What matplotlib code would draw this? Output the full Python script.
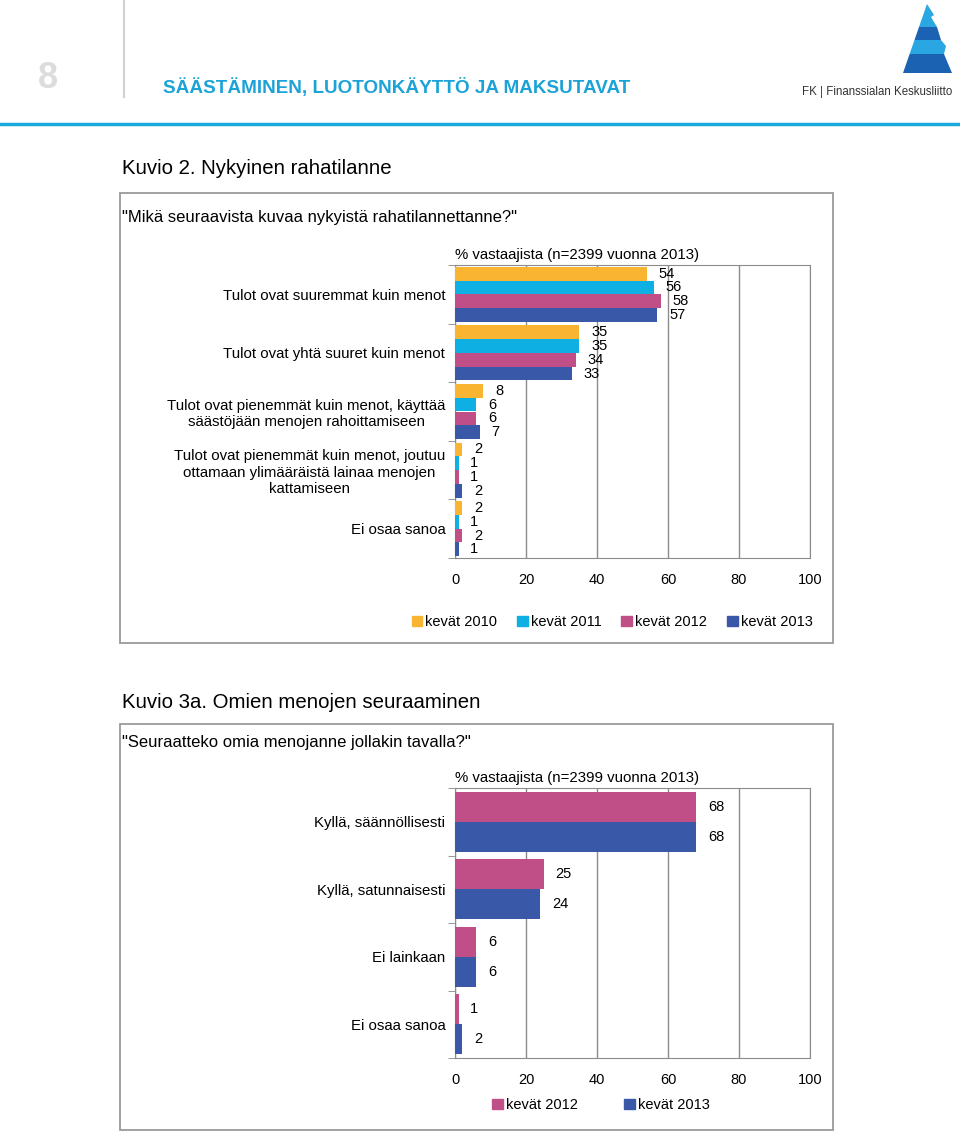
import matplotlib as mpl
mpl.use('Agg')
import matplotlib.pyplot as plt  # NOQA
from matplotlib.patches import Rectangle, Polygon, Patch

W, H = 960, 1134

# data: Kuvio 2
cats1 = ['Tulot ovat suuremmat kuin menot',
         'Tulot ovat yhtä suuret kuin menot',
         'Tulot ovat pienemmät kuin menot, käyttää\nsäästöjään menojen rahoittamiseen',
         'Tulot ovat pienemmät kuin menot, joutuu\nottamaan ylimääräistä lainaa menojen\nkattamiseen',
         'Ei osaa sanoa']
v2010 = [54, 35, 8, 2, 2]
v2011 = [56, 35, 6, 1, 1]
v2012 = [58, 34, 6, 1, 2]
v2013 = [57, 33, 7, 2, 1]
series1 = ['kevät 2010', 'kevät 2011', 'kevät 2012', 'kevät 2013']

# data: Kuvio 3a
cats2 = ['Kyllä, säännöllisesti', 'Kyllä, satunnaisesti', 'Ei lainkaan', 'Ei osaa sanoa']
w2012 = [68, 25, 6, 1]
w2013 = [68, 24, 6, 2]
series2 = ['kevät 2012', 'kevät 2013']

xticks = [0, 20, 40, 60, 80, 100]

col = {'kevät 2010': '#f9b531', 'kevät 2011': '#0eb0e3',
       'kevät 2012': '#c14f87', 'kevät 2013': '#3a58a8'}

plt.rcParams['font.family'] = ['Liberation Sans', 'DejaVu Sans']


def fx(x):
    return x / W


def fy(y):
    return 1 - y / H


def box(l, t, r, b):
    return [fx(l), fy(b), fx(r) - fx(l), fy(t) - fy(b)]


fig = plt.figure(figsize=(9.6, 11.34), dpi=100)

# header
fig.text(fx(48), fy(78), '8', fontsize=26, fontweight='bold', color='#dcdcdc',
         ha='center', va='center')
fig.add_artist(plt.Line2D([fx(124), fx(124)], [fy(0), fy(97)], color='#d0d0d0', lw=1.5))
fig.text(fx(163), fy(87), 'SÄÄSTÄMINEN, LUOTONKÄYTTÖ JA MAKSUTAVAT', fontsize=13.6,
         fontweight='bold', color='#1ba3d8', va='center')
fig.add_artist(plt.Line2D([0, 1], [fy(123.5), fy(123.5)], color='#1aa9dc', lw=2.5))


# logo: stripes between a straight left edge and a stepped right edge
def xl(y):
    return 927 + (903 - 927) * (y - 4) / 69


light, dark = '#2aa6e3', '#1c62b3'
bands = [
    (4, 27, [(927, 4), (934, 15), (931, 17), (937, 27)], light),
    (27, 40, [(937, 27), (941, 40)], dark),
    (40, 54, [(941, 40), (946, 46), (944, 54)], light),
    (54, 73, [(944, 54), (952, 73)], dark),
]
for y0, y1, right, c in bands:
    pts = [(xl(y0), y0)] + right + [(xl(y1), y1)]
    fig.add_artist(Polygon([(fx(a), fy(b)) for a, b in pts], closed=True,
                           transform=fig.transFigure, facecolor=c, edgecolor='none'))
fig.text(fx(952), fy(92), 'FK | Finanssialan Keskusliitto', fontsize=8.3,
         ha='right', va='center', color='#333333')

# titles and frames
fig.text(fx(122), fy(168), 'Kuvio 2. Nykyinen rahatilanne', fontsize=14.7, va='center')
fig.text(fx(122), fy(218), '"Mikä seuraavista kuvaa nykyistä rahatilannettanne?"',
         fontsize=12, va='center')
fig.text(fx(122), fy(702), 'Kuvio 3a. Omien menojen seuraaminen', fontsize=14.7, va='center')
fig.text(fx(122), fy(742), '"Seuraatteko omia menojanne jollakin tavalla?"',
         fontsize=12, va='center')
for t, b in [(193, 643), (724, 1130)]:
    fig.add_artist(Rectangle((fx(120), fy(b)), fx(833) - fx(120), fy(t) - fy(b),
                             transform=fig.transFigure, fill=False,
                             edgecolor='#9a9a9a', lw=1.3))


def bar_chart(ax, cats, vals, labels, h):
    n = len(vals)
    for i, (v, lab) in enumerate(zip(vals, labels)):
        pos = [k + (i - (n - 1) / 2) * h for k in range(len(cats))]
        ax.barh(pos, v, height=h, color=col[lab], zorder=3)
        for p, val in zip(pos, v):
            ax.annotate(str(val), (val, p), xytext=(8.5, 0), textcoords='offset points',
                        va='center', ha='left', fontsize=10.5)
    ax.set_xlim(0, 100)
    ax.set_ylim(len(cats) - 0.5, -0.5)
    ax.set_xticks(xticks)
    ax.set_yticks(range(len(cats)))
    ax.set_yticklabels(cats, multialignment='center', fontsize=10.8)
    ax.set_yticks([k - 0.5 for k in range(len(cats) + 1)], minor=True)
    ax.tick_params(axis='y', which='major', length=0, pad=7)
    ax.tick_params(axis='y', which='minor', length=5, color='#888888', direction='out')
    ax.tick_params(axis='x', length=0, pad=11, labelsize=10.5)
    ax.grid(axis='x', color='#8c8c8c', lw=1, zorder=0)
    for s in ax.spines.values():
        s.set_color('#8c8c8c')
    ax.set_title('% vastaajista (n=2399 vuonna 2013)', loc='left', fontsize=10.8, pad=4)


ax1 = fig.add_axes(box(455, 265, 810, 558))
bar_chart(ax1, cats1, [v2010, v2011, v2012, v2013], series1, 0.235)
fig.legend([Patch(color=col[s]) for s in series1], series1, loc='center',
           bbox_to_anchor=(fx(612), fy(622)), ncol=4, frameon=False, fontsize=10.5,
           handlelength=0.75, handleheight=0.75, handletextpad=0.2, columnspacing=1.35)

ax2 = fig.add_axes(box(455, 788, 810, 1058))
bar_chart(ax2, cats2, [w2012, w2013], series2, 0.445)
fig.legend([Patch(color=col[s]) for s in series2], series2, loc='center',
           bbox_to_anchor=(fx(601), fy(1105)), ncol=2, frameon=False, fontsize=10.5,
           handlelength=0.75, handleheight=0.75, handletextpad=0.2, columnspacing=3.2)

fig.savefig('out.png', dpi=100)
